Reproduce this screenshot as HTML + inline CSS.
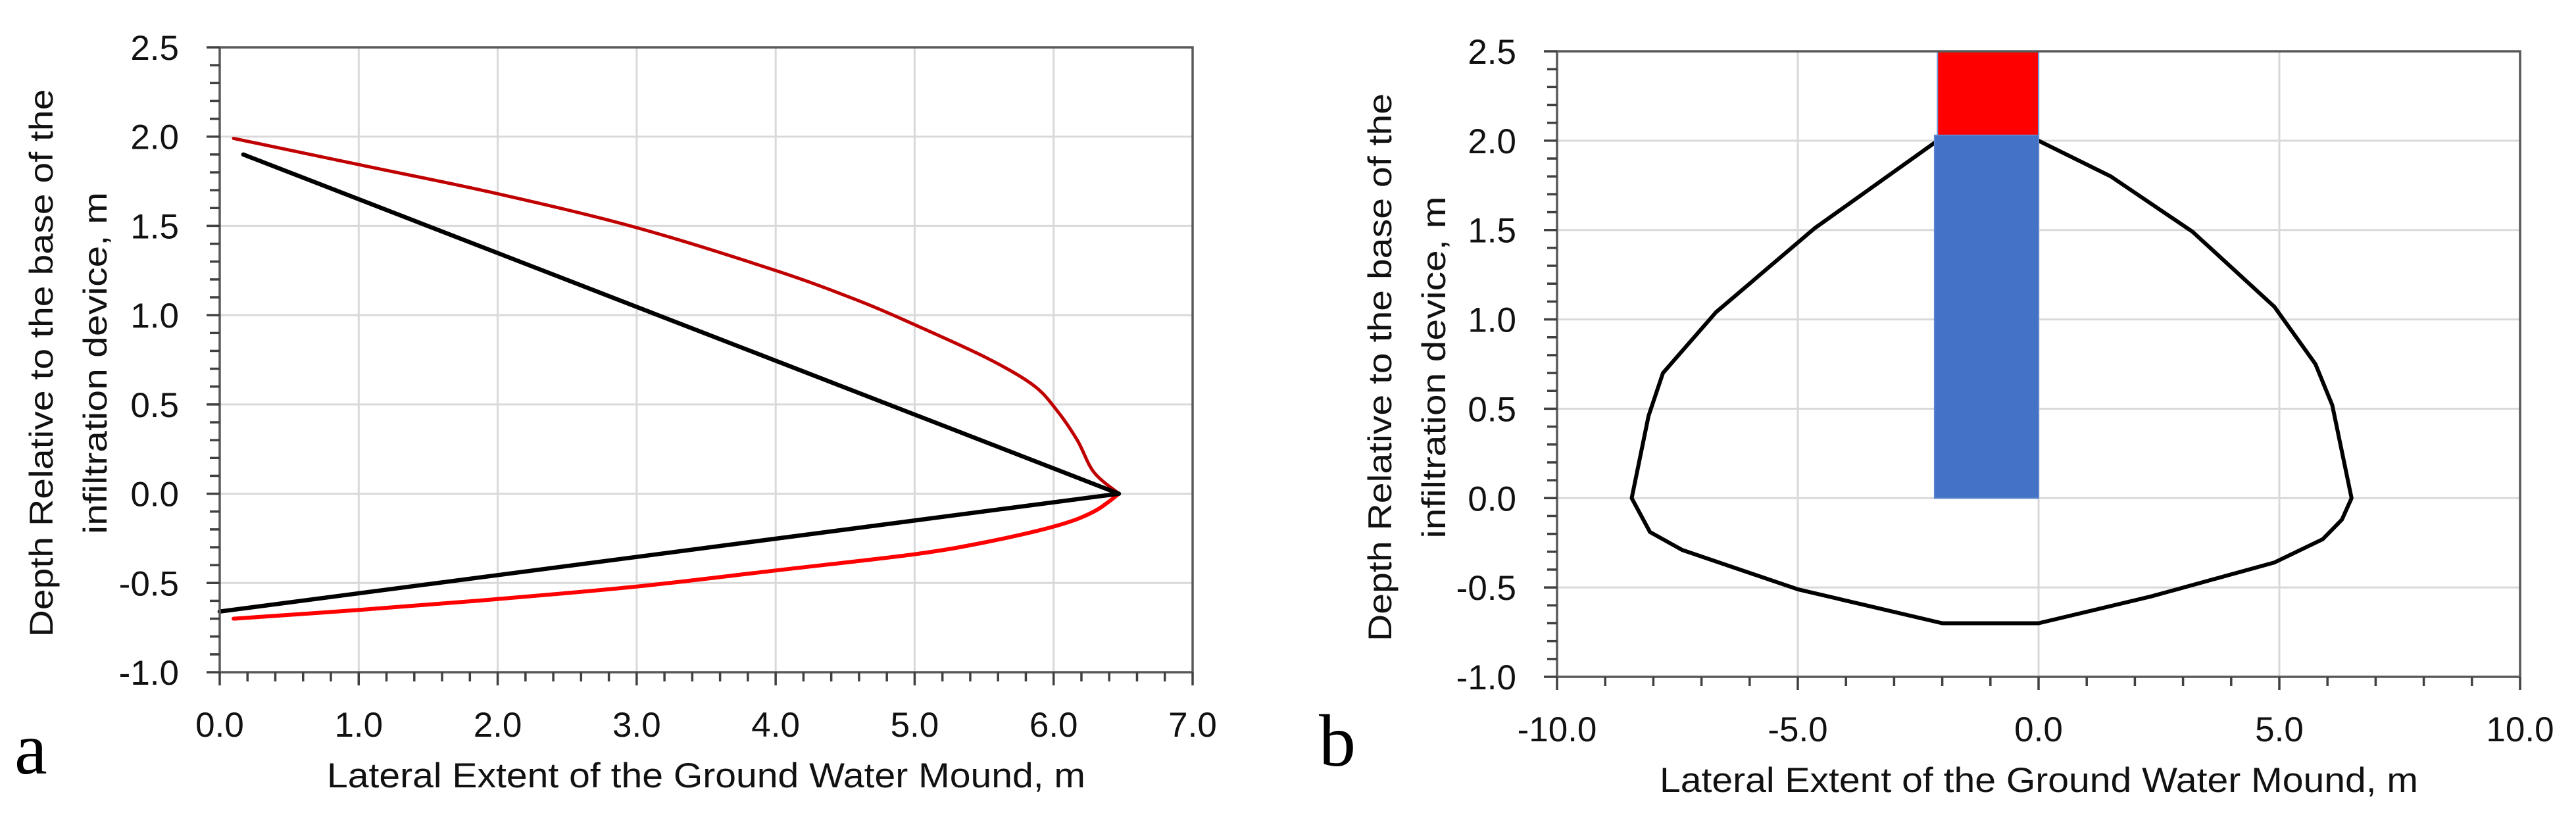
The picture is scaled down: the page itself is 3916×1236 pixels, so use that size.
<!DOCTYPE html>
<html><head><meta charset="utf-8"><style>
html,body{margin:0;padding:0;background:#fff;}
svg{display:block;font-family:"Liberation Sans",sans-serif;}
</style></head><body>
<svg id="fig" width="3916" height="1236" viewBox="0 0 3916 1236" xmlns="http://www.w3.org/2000/svg">
<rect width="3916" height="1236" fill="#fff"/>
<text x="22" y="1176" font-family="Liberation Serif,serif" font-size="112">a</text>
<text x="2005" y="1164" font-family="Liberation Serif,serif" font-size="112">b</text>
</svg>
<script>
// Chart a data
const aUpperRedX = [0.1, 1.02, 2.0, 3.0, 4.0, 4.6, 4.99, 5.52, 5.85, 6.02, 6.17, 6.29, 6.47];
const aUpperRedY = [1.99, 1.84, 1.68, 1.49, 1.25, 1.08, 0.95, 0.76, 0.61, 0.47, 0.30, 0.12, 0.0];
const aLowerRedX = [6.47, 6.29, 6.02, 5.52, 4.99, 4.0, 3.0, 2.0, 1.02, 0.1];
const aLowerRedY = [0.0, -0.10, -0.18, -0.27, -0.34, -0.43, -0.52, -0.59, -0.65, -0.70];
const aBlackX = [0.17, 6.47, 0.0];
const aBlackY = [1.90, 0.0, -0.66];
const aXTicks = ["0.0","1.0","2.0","3.0","4.0","5.0","6.0","7.0"];
const yTicks = ["-1.0","-0.5","0.0","0.5","1.0","1.5","2.0","2.5"];
// Chart b data
const bMoundX = [0.0, 1.5, 3.2, 4.9, 5.75, 6.1, 6.5, 6.3, 5.9, 4.9, 2.34, 0.0, -2.0, -5.0, -7.4, -8.07, -8.45, -8.1, -7.8, -6.7, -4.65, -2.1];
const bMoundY = [2.0, 1.8, 1.49, 1.07, 0.75, 0.52, 0.0, -0.12, -0.23, -0.36, -0.55, -0.70, -0.70, -0.51, -0.29, -0.19, 0.0, 0.46, 0.70, 1.04, 1.51, 2.0];
const bRedBox = [-2.1, 0.0, 2.02, 2.5];   // x0,x1,y0,y1
const bBlueBox = [-2.16, 0.0, 0.0, 2.03];
const bXTicks = ["-10.0","-5.0","0.0","5.0","10.0"];

const NS = "http://www.w3.org/2000/svg";
const svg = document.getElementById('fig');
function mk(tag, attrs, parent){
  const e = document.createElementNS(NS, tag);
  for (const k in attrs) e.setAttribute(k, attrs[k]);
  (parent||svg).appendChild(e);
  return e;
}

function chart(cfg){
  const g = mk('g', {});
  
  
  const sx = v => cfg.L + (v - cfg.xmin) / (cfg.xmax - cfg.xmin) * (cfg.R - cfg.L);
  const sy = v => cfg.B - (v - cfg.ymin) / (cfg.ymax - cfg.ymin) * (cfg.B - cfg.T);
  for (const t of cfg.xTicks){
    const v = parseFloat(t);
    const l = mk('line', {x1:sx(v), x2:sx(v), y1:cfg.T, y2:cfg.B, stroke:'#d9d9d9', 'stroke-width':3}, g);
    
    
  }
  for (const t of yTicks){
    const v = parseFloat(t);
    const l = mk('line', {x1:cfg.L, x2:cfg.R, y1:sy(v), y2:sy(v), stroke:'#d9d9d9', 'stroke-width':3}, g);
    
    
  }
  cfg.drawMarks(g, sx, sy);
  const fr = mk('rect', {x:cfg.L, y:cfg.T, width:cfg.R-cfg.L, height:cfg.B-cfg.T, fill:'none', stroke:'#595959', 'stroke-width':3.5}, g);
  
  
  for (let v = cfg.ymin; v <= cfg.ymax + 1e-6; v += 0.1){
    const major = Math.abs(v*2 - Math.round(v*2)) < 1e-6;
    const l = mk('line', {x1:cfg.L-(major?20:15), x2:cfg.L, y1:sy(v), y2:sy(v), stroke:'#404040', 'stroke-width':3.5}, g);
    
    
  }
  const nMinor = Math.round((cfg.xmax - cfg.xmin)/cfg.xMinor);
  for (let i = 0; i <= nMinor; i++){
    const v = cfg.xmin + i*cfg.xMinor;
    const major = cfg.xTicks.some(t => Math.abs(parseFloat(t)-v) < 1e-6);
    const l = mk('line', {x1:sx(v), x2:sx(v), y1:cfg.B, y2:cfg.B+(major?20:14), stroke:'#404040', 'stroke-width':3.5}, g);
    
    
  }
  for (const t of yTicks){
    const tx = mk('text', {x:cfg.L-62, y:sy(parseFloat(t))+19, 'text-anchor':'end', 'font-size':53, fill:'#111'}, g);
    tx.textContent = t;
    
    
  }
  for (const t of cfg.xTicks){
    const tx = mk('text', {x:sx(parseFloat(t)), y:cfg.B+98, 'text-anchor':'middle', 'font-size':53, fill:'#111'}, g);
    tx.textContent = t;
    
    
  }
  const xt = mk('text', {x:cfg.xTitleX, y:cfg.B+175, 'font-size':53, textLength:1153, lengthAdjust:'spacingAndGlyphs', fill:'#111'}, g);
  xt.textContent = 'Lateral Extent of the Ground Water Mound, m';
  
  
  const yc = (cfg.T + cfg.B)/2 + 5;
  const lines = ['Depth Relative to the base of the', 'infiltration device, m'];
  const lens = [833, 520];
  const xs = [cfg.yTitleX, cfg.yTitleX + 82];
  for (let i = 0; i < 2; i++){
    const yt = mk('text', {x:0, y:0, 'text-anchor':'middle', 'font-size':50, textLength:lens[i], lengthAdjust:'spacingAndGlyphs', fill:'#111',
      transform:`translate(${xs[i]},${yc}) rotate(-90)`}, g);
    yt.textContent = lines[i];
    
    
  }
}

function poly(g, xs, ys, sx, sy, color, w, name){
  const pts = xs.map((x,i) => sx(x).toFixed(1)+','+sy(ys[i]).toFixed(1)).join(' ');
  const p = mk('polyline', {points:pts, fill:'none', stroke:color, 'stroke-width':w, 'stroke-linejoin':'round', 'stroke-linecap':'round'}, g);
  
  
}
function smooth(g, xs, ys, sx, sy, color, w, name){
  const P = xs.map((x,i)=>[sx(x), sy(ys[i])]);
  let d = 'M'+P[0][0].toFixed(1)+','+P[0][1].toFixed(1);
  for (let i = 0; i < P.length-1; i++){
    const p0 = P[i-1]||P[i], p1 = P[i], p2 = P[i+1], p3 = P[i+2]||P[i+1];
    const c1 = [p1[0]+(p2[0]-p0[0])/6, p1[1]+(p2[1]-p0[1])/6];
    const c2 = [p2[0]-(p3[0]-p1[0])/6, p2[1]-(p3[1]-p1[1])/6];
    d += ` C${c1[0].toFixed(1)},${c1[1].toFixed(1)} ${c2[0].toFixed(1)},${c2[1].toFixed(1)} ${p2[0].toFixed(1)},${p2[1].toFixed(1)}`;
  }
  const p = mk('path', {d:d, fill:'none', stroke:color, 'stroke-width':w, 'stroke-linejoin':'round', 'stroke-linecap':'round'}, g);
  
  
}

chart({name:'chart-a', L:334, R:1813, T:72, B:1022, xmin:0, xmax:7, ymin:-1, ymax:2.5, xMinor:0.2,
  xTicks:aXTicks, xTitleX:497, yTitleX:80,
  drawMarks:(g,sx,sy)=>{
    smooth(g, aUpperRedX, aUpperRedY, sx, sy, '#c00000', 5, 'upper-red-curve');
    smooth(g, aLowerRedX, aLowerRedY, sx, sy, '#ff0000', 6, 'lower-red-curve');
    poly(g, aBlackX, aBlackY, sx, sy, '#000', 6.5, 'black-mound-line');
  }});

chart({name:'chart-b', L:2367, R:3831, T:78, B:1029, xmin:-10, xmax:10, ymin:-1, ymax:2.5, xMinor:1,
  xTicks:bXTicks, xTitleX:2523, yTitleX:2115,
  drawMarks:(g,sx,sy)=>{
    poly(g, bMoundX, bMoundY, sx, sy, '#000', 6, 'mound-outline');
    const r = mk('rect', {x:sx(bRedBox[0]), y:sy(bRedBox[3]), width:sx(bRedBox[1])-sx(bRedBox[0]), height:sy(bRedBox[2])-sy(bRedBox[3]), fill:'#ff0000', stroke:'#6f9bd8', 'stroke-width':2}, g);
    
    
    const b = mk('rect', {x:sx(bBlueBox[0]), y:sy(bBlueBox[3]), width:sx(bBlueBox[1])-sx(bBlueBox[0]), height:sy(bBlueBox[2])-sy(bBlueBox[3]), fill:'#4472c4', stroke:'#5b87cf', 'stroke-width':2}, g);
    
    
  }});
</script>
</body></html>
